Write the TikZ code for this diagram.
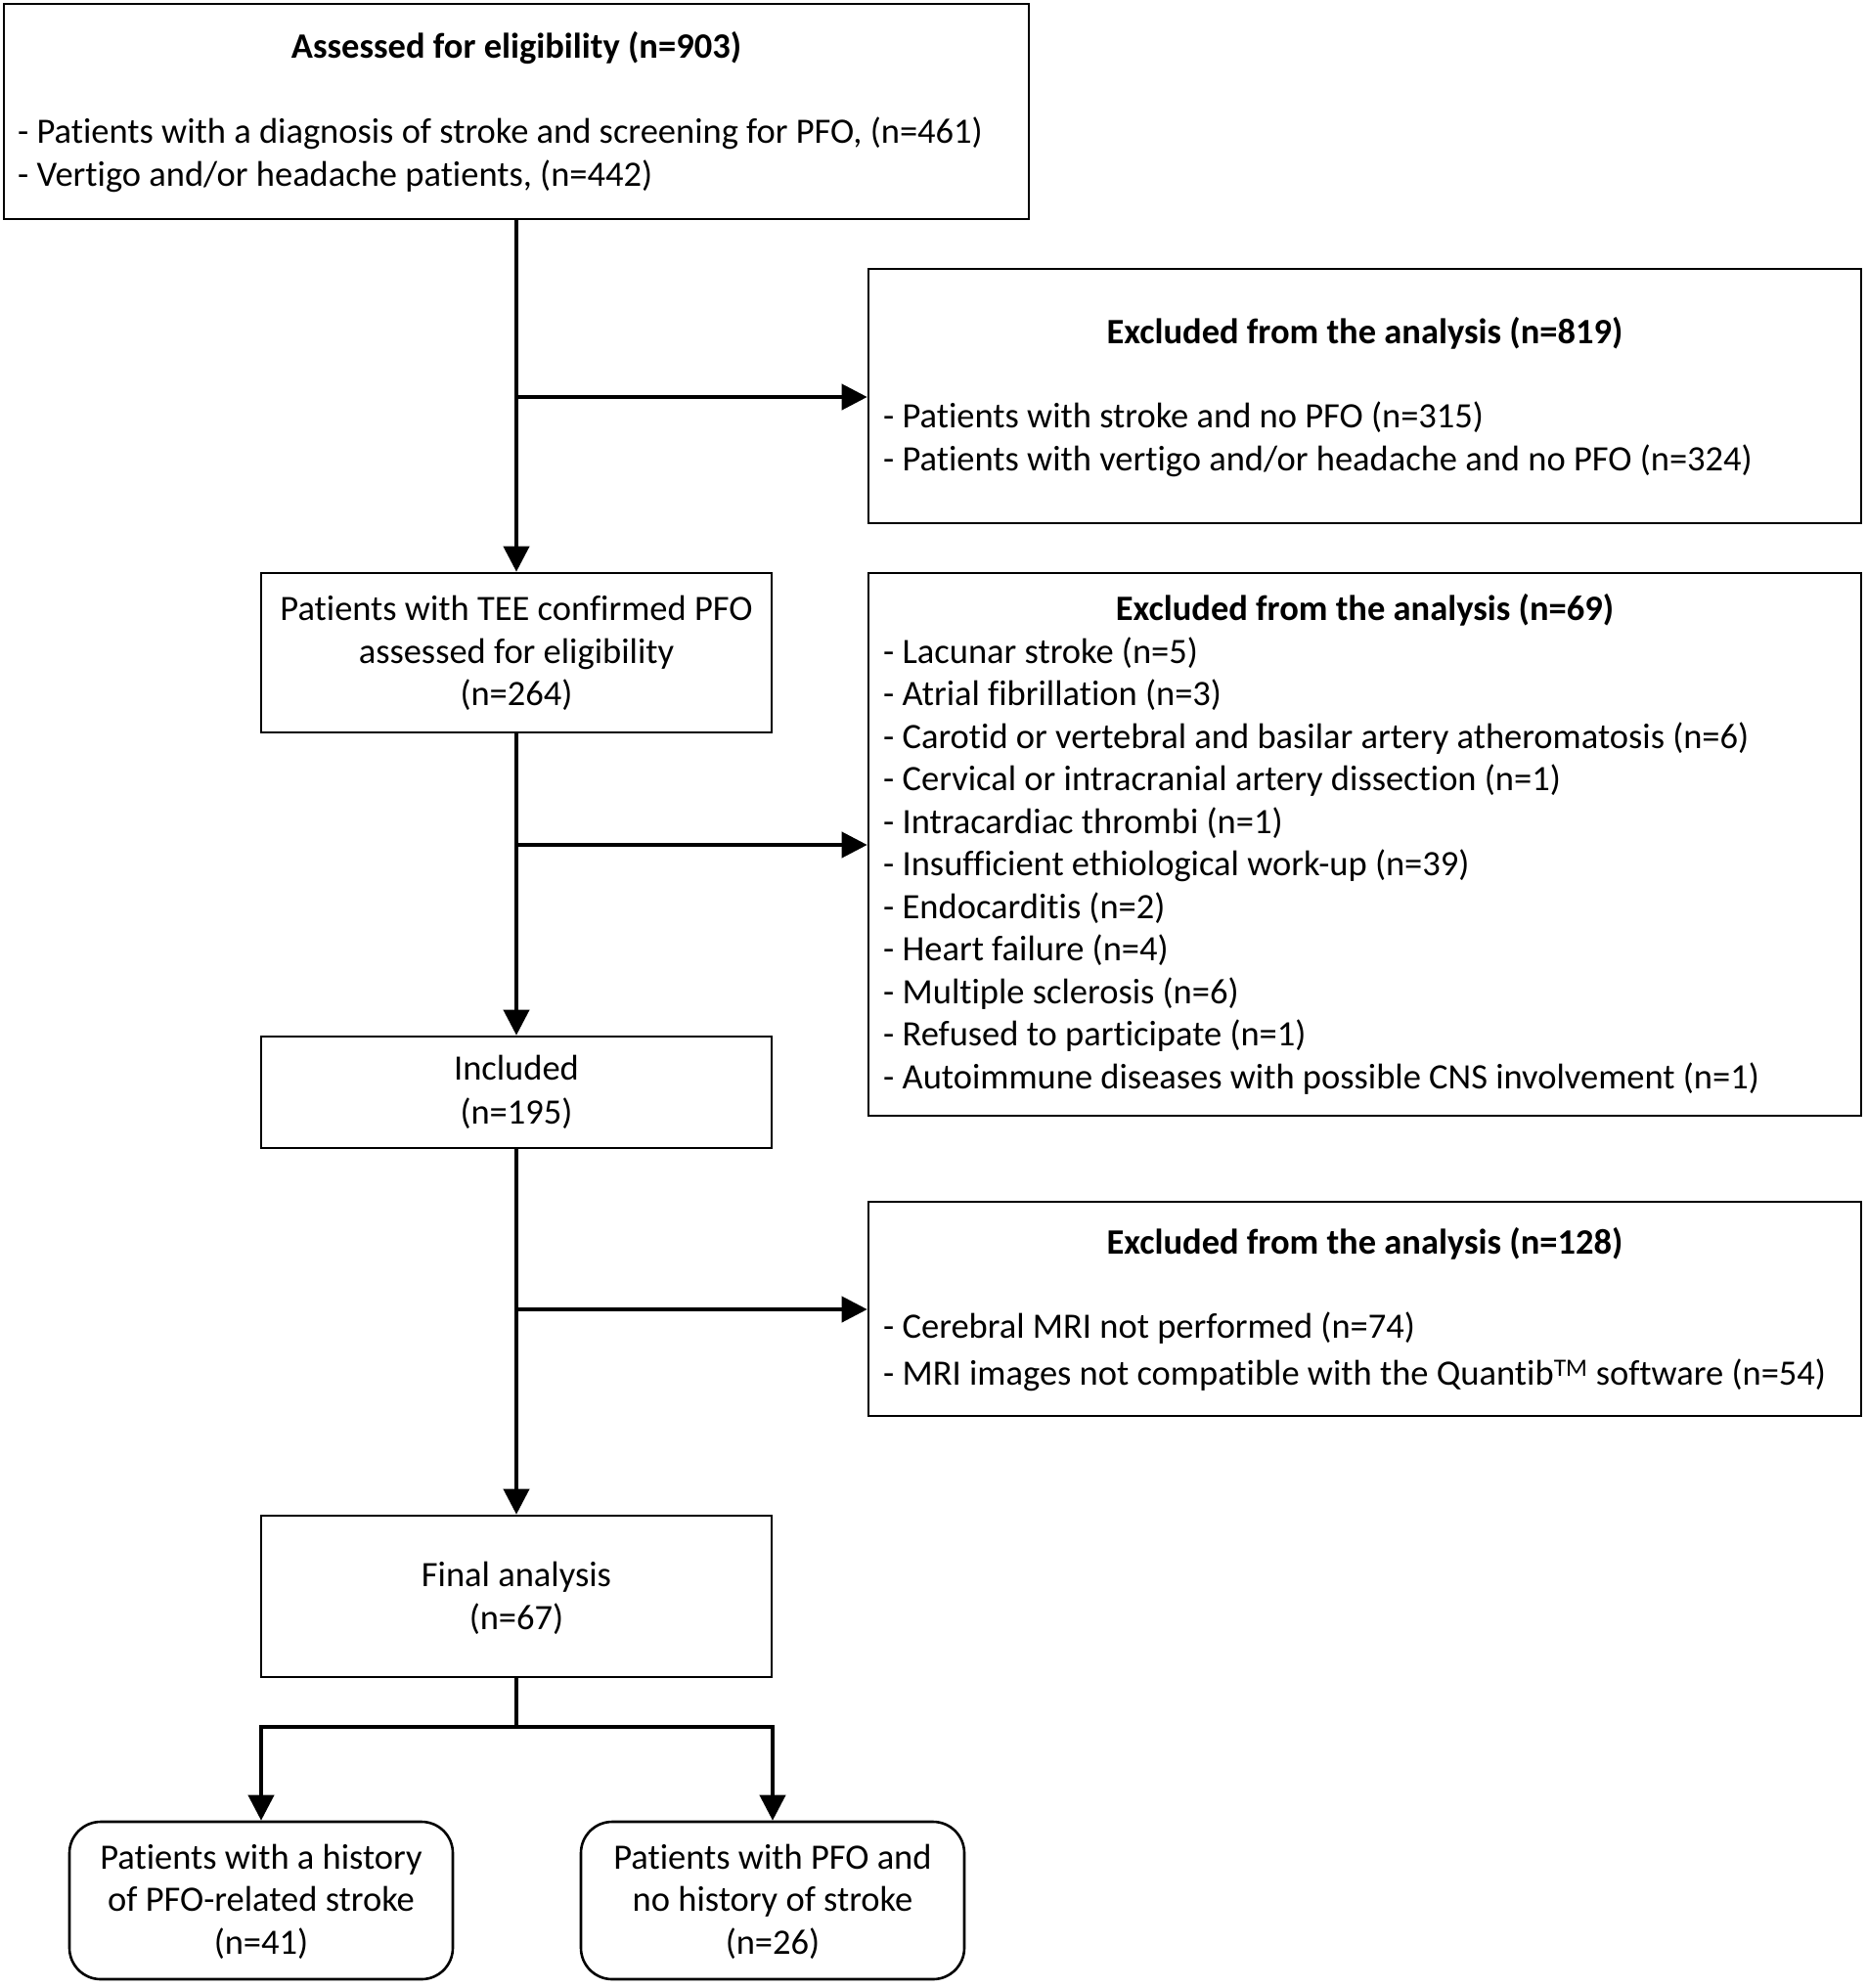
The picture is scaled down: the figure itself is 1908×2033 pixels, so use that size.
\documentclass[tikz,border=0pt]{standalone}
\usepackage{fontspec}
\setmainfont{Carlito}[Ligatures={NoCommon}]
\usetikzlibrary{arrows.meta}
\begin{document}
\begin{tikzpicture}[x=1pt,y=-1pt,
  box/.style={draw,line width=2.6pt,inner sep=0pt},
  rbox/.style={box,rounded corners=32pt},
  txt/.style={inner sep=0pt,yshift=-9pt,font=\fontsize{36.5}{44}\selectfont},
  htxt/.style={txt,font=\fontsize{36.5}{44}\selectfont\bfseries},
  conn/.style={line width=4pt},
  arr/.style={conn,-{Triangle[length=26pt,width=26pt]}}]
\fill[white] (0,0) rectangle (1908,2033);
\useasboundingbox (0,0) rectangle (1908,2033);
% boxes
\node[box,minimum width=1048pt,minimum height=220pt] (b1) at (528,114) {};
\node[box,minimum width=1015pt,minimum height=260pt] (e1) at (1395.5,405) {};
\node[box,minimum width=522pt,minimum height=163pt] (b2) at (528,667.5) {};
\node[box,minimum width=1015pt,minimum height=555pt] (e2) at (1395.5,863.5) {};
\node[box,minimum width=522pt,minimum height=114pt] (b3) at (528,1117) {};
\node[box,minimum width=1015pt,minimum height=219pt] (e3) at (1395.5,1338.5) {};
\node[box,minimum width=522pt,minimum height=165pt] (b4) at (528,1632.5) {};
\node[rbox,minimum width=392pt,minimum height=161pt] (bl) at (267,1943.5) {};
\node[rbox,minimum width=392pt,minimum height=161pt] (br) at (790,1943.5) {};
% box 1 text
\node[htxt,anchor=mid] (t1) at (528,48) {Assessed for eligibility (n=903)};
\node[txt,anchor=mid west] (t1a) at (18,135) {- Patients with a diagnosis of stroke and screening for PFO, (n=461)};
\node[txt,anchor=mid west] (t1b) at (18,179) {- Vertigo and/or headache patients, (n=442)};
% excl 1
\node[htxt,anchor=mid] (u1) at (1395.5,340) {Excluded from the analysis (n=819)};
\node[txt,anchor=mid west] (u1a) at (903,426) {- Patients with stroke and no PFO (n=315)};
\node[txt,anchor=mid west] (u1b) at (903,470) {- Patients with vertigo and/or headache and no PFO (n=324)};
% box 2
\node[txt,anchor=mid] (t2a) at (528,623) {Patients with TEE confirmed PFO};
\node[txt,anchor=mid] (t2b) at (528,667) {assessed for eligibility};
\node[txt,anchor=mid] (t2c) at (528,710) {(n=264)};
% excl 2
\node[htxt,anchor=mid] (u2) at (1395.5,623) {Excluded from the analysis (n=69)};
\node[txt,anchor=mid west] (u2a) at (903,667) {- Lacunar stroke (n=5)};
\node[txt,anchor=mid west] (u2b) at (903,710.5) {- Atrial fibrillation (n=3)};
\node[txt,anchor=mid west] (u2c) at (903,754) {- Carotid or vertebral and basilar artery atheromatosis (n=6)};
\node[txt,anchor=mid west] (u2d) at (903,797.5) {- Cervical or intracranial artery dissection (n=1)};
\node[txt,anchor=mid west] (u2e) at (903,841) {- Intracardiac thrombi (n=1)};
\node[txt,anchor=mid west] (u2f) at (903,884.5) {- Insufficient ethiological work-up (n=39)};
\node[txt,anchor=mid west] (u2g) at (903,928) {- Endocarditis (n=2)};
\node[txt,anchor=mid west] (u2h) at (903,971.5) {- Heart failure (n=4)};
\node[txt,anchor=mid west] (u2i) at (903,1015) {- Multiple sclerosis (n=6)};
\node[txt,anchor=mid west] (u2j) at (903,1058.5) {- Refused to participate (n=1)};
\node[txt,anchor=mid west] (u2k) at (903,1102) {- Autoimmune diseases with possible CNS involvement (n=1)};
% box 3
\node[txt,anchor=mid] (t3a) at (528,1093) {Included};
\node[txt,anchor=mid] (t3b) at (528,1138) {(n=195)};
% excl 3
\node[htxt,anchor=mid] (u3) at (1395.5,1271) {Excluded from the analysis (n=128)};
\node[txt,anchor=mid west] (u3a) at (903,1357) {- Cerebral MRI not performed (n=74)};
\node[txt,anchor=mid west] (u3b) at (903,1405) {- MRI images not compatible with the Quantib\textsuperscript{TM} software (n=54)};
% box 4
\node[txt,anchor=mid] (t4a) at (528,1611) {Final analysis};
\node[txt,anchor=mid] (t4b) at (528,1655) {(n=67)};
% bottom boxes
\node[txt,anchor=mid] (l1) at (267,1900) {Patients with a history};
\node[txt,anchor=mid] (l2) at (267,1943) {of PFO-related stroke};
\node[txt,anchor=mid] (l3) at (267,1987) {(n=41)};
\node[txt,anchor=mid] (r1) at (790,1900) {Patients with PFO and};
\node[txt,anchor=mid] (r2) at (790,1943) {no history of stroke};
\node[txt,anchor=mid] (r3) at (790,1987) {(n=26)};
% connectors
\coordinate (j1) at (528,406);
\coordinate (j2) at (528,864);
\coordinate (j3) at (528,1339);
\coordinate (s) at (528,1766);
\draw[arr] (b1.south) -- (b2.north);
\draw[arr] (j1) -- (j1 -| e1.west);
\draw[arr] (b2.south) -- (b3.north);
\draw[arr] (j2) -- (j2 -| e2.west);
\draw[arr] (b3.south) -- (b4.north);
\draw[arr] (j3) -- (j3 -| e3.west);
\draw[conn] (b4.south) -- (s);
\draw[arr] (s) -| (bl.north);
\draw[arr] (s) -| (br.north);
\end{tikzpicture}
\end{document}
